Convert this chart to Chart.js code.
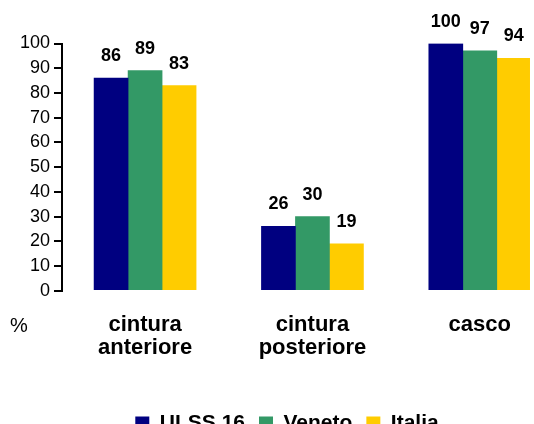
<!DOCTYPE html>
<html><head><meta charset="utf-8">
<script src="https://cdn.jsdelivr.net/npm/chart.js@4"></script>
<style>
html,body{margin:0;padding:0;background:#fff;overflow:hidden;}
#wrap{position:relative;width:534px;height:444px;}
</style></head>
<body><div id="wrap"><canvas id="c"></canvas></div>
<script>
const categories = [['cintura', 'anteriore'], ['cintura', 'posteriore'], ['casco']];
const seriesNames = ['ULSS 16', 'Veneto', 'Italia'];
const ulss16 = [86, 26, 100];
const veneto = [89, 30, 97];
const italia = [83, 19, 94];
const yTicks = [0, 10, 20, 30, 40, 50, 60, 70, 80, 90, 100];
const unitLabel = '%';
const colors = ['#000080', '#339966', '#FFCC00'];

const seriesValues = [ulss16, veneto, italia];
const FONT = '"Liberation Sans", Arial, Helvetica, sans-serif';

const datasets = seriesNames.map((name, i) => ({
  label: name,
  data: seriesValues[i].map((v, j) => ({ x: j, y: v })),
  backgroundColor: colors[i],
  borderWidth: 0,
  barThickness: 34
}));

const valuePlugin = {
  id: 'valueLabels',
  afterLayout(chart) {
    // centre the legend row like the original (legend spans 40..right)
    if (chart.legend) chart.legend.left += 40;
  },
  afterDatasetsDraw(chart) {
    const ctx = chart.ctx;
    ctx.save();
    ctx.fillStyle = '#000';
    ctx.font = 'bold 18px ' + FONT;
    ctx.textAlign = 'center';
    ctx.textBaseline = 'alphabetic';
    chart.data.datasets.forEach((ds, i) => {
      const meta = chart.getDatasetMeta(i);
      meta.data.forEach((el, j) => {
        ctx.fillText(String(seriesValues[i][j]), el.x, el.y - 17);
      });
    });
    ctx.font = '20px ' + FONT;
    ctx.textAlign = 'left';
    ctx.fillText(unitLabel, 10, chart.chartArea.bottom + 41.5);
    ctx.restore();
  }
};

new Chart(document.getElementById('c'), {
  type: 'bar',
  data: { datasets },
  options: {
    responsive: true,
    maintainAspectRatio: false,
    animation: false,
    layout: { padding: { left: 0, top: 43.5, right: 0, bottom: 0 } },
    plugins: {
      legend: {
        position: 'bottom',
        labels: {
          font: { family: FONT, size: 21, weight: 'bold' },
          color: '#000',
          boxWidth: 14,
          boxHeight: 14,
          padding: 14
        }
      },
      tooltip: { enabled: false }
    },
    scales: {
      x: {
        type: 'linear',
        min: -0.4964,
        max: 2.2998,
        offset: false,
        grid: { display: false, drawTicks: false },
        border: { display: false },
        afterBuildTicks: a => { a.ticks = categories.map((c, i) => ({ value: i })); },
        ticks: {
          callback: v => categories[v],
          font: { family: FONT, size: 22, weight: 'bold', lineHeight: 1.05 },
          color: '#000',
          padding: 23,
          maxRotation: 0,
          autoSkip: false
        },
        afterFit: a => { a.height = 108.3; }
      },
      y: {
        min: 0,
        max: 100,
        afterBuildTicks: a => { a.ticks = yTicks.map(v => ({ value: v })); },
        ticks: { font: { family: FONT, size: 18 }, color: '#000', padding: 4 },
        grid: { drawOnChartArea: false, color: '#000', lineWidth: 2, tickLength: 8 },
        border: { color: '#000', width: 2 },
        afterFit: a => { a.width = 62; }
      }
    }
  },
  plugins: [valuePlugin]
});
</script>
</body></html>
